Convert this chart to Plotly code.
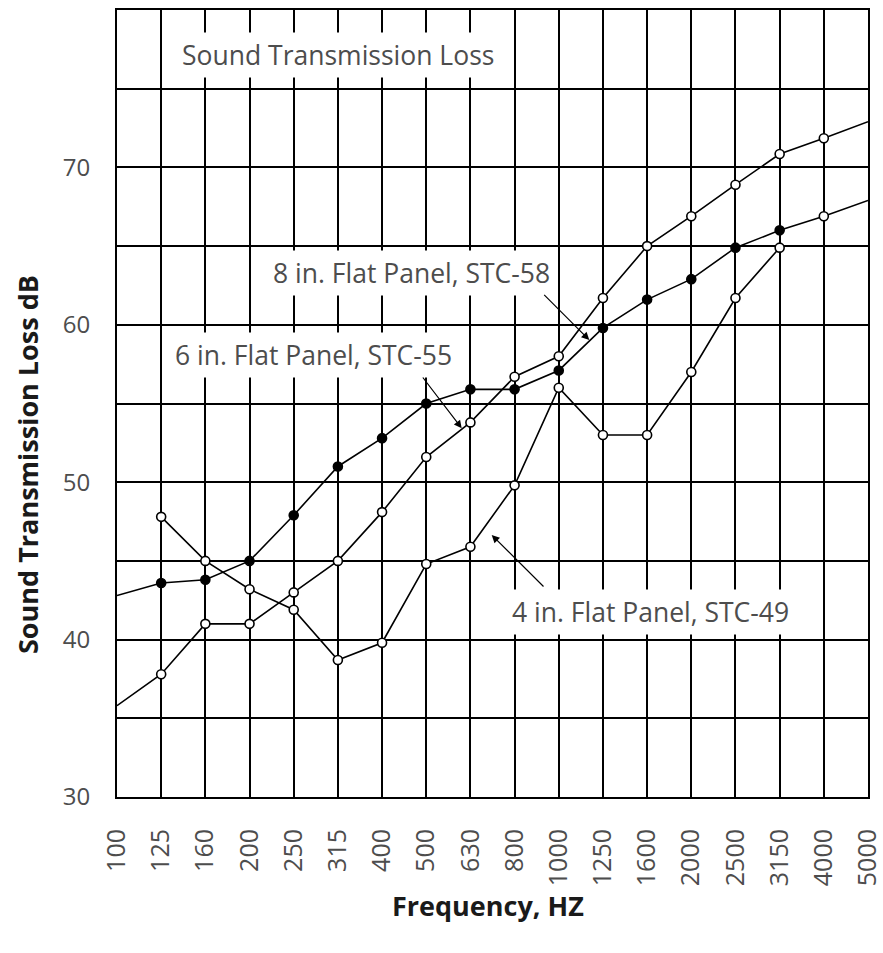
import plotly.graph_objects as go

# ---- data ----
freq_labels = ["100", "125", "160", "200", "250", "315", "400", "500", "630", "800",
               "1000", "1250", "1600", "2000", "2500", "3150", "4000", "5000"]
idx = list(range(len(freq_labels)))

stl_8in = [35.8, 37.8, 41.0, 41.0, 43.0, 45.0, 48.1, 51.6, 53.8, 56.7,
           58.0, 61.7, 65.0, 66.9, 68.9, 70.85, 71.85, 72.9]
stl_6in = [42.8, 43.6, 43.8, 45.0, 47.9, 51.0, 52.8, 55.0, 55.9, 55.9,
           57.1, 59.8, 61.6, 62.9, 64.9, 66.0, 66.9, 67.9]
stl_4in = [47.8, 45.0, 43.2, 41.9, 38.7, 39.8, 44.8, 45.9, 49.8, 56.0,
           53.0, 53.0, 57.0, 61.7, 64.9]
idx_4in = idx[1:16]

y_ticks = [30, 35, 40, 45, 50, 55, 60, 65, 70, 75, 80]
y_ticktext = ["30", "", "40", "", "50", "", "60", "", "70", "", ""]

FONT = "Open Sans"
GRAY = "#4d4d4d"

fig = go.Figure()

# lines
for xs, ys in ((idx, stl_8in), (idx, stl_6in), (idx_4in, stl_4in)):
    fig.add_trace(go.Scatter(x=xs, y=ys, mode="lines",
                             line=dict(color="black", width=1.6),
                             showlegend=False, hoverinfo="skip"))

# markers
fig.add_trace(go.Scatter(x=idx[1:17], y=stl_8in[1:17], mode="markers",
                         marker=dict(symbol="circle", size=9, color="white",
                                     line=dict(color="black", width=1.6)),
                         showlegend=False))
fig.add_trace(go.Scatter(x=idx[1:17], y=stl_6in[1:17], mode="markers",
                         marker=dict(symbol="circle", size=9,
                                     color=["black"] * 15 + ["white"],
                                     line=dict(color="black", width=1.6)),
                         showlegend=False))
fig.add_trace(go.Scatter(x=idx_4in, y=stl_4in, mode="markers",
                         marker=dict(symbol="circle", size=9, color="white",
                                     line=dict(color="black", width=1.6)),
                         showlegend=False))

L, R, T, B = 117, 868, 10, 797
W_PX, H_PX = 883, 953

def px_to_data(px, py):
    return (px - L) / (R - L) * 17, 80 - (py - T) / (B - T) * 50

annotations = []

def label(text, px, py, size=26.5):
    x, y = px_to_data(px, py)
    annotations.append(dict(x=x, y=y, xref="x", yref="y", text=text, showarrow=False,
                            xanchor="center", yanchor="middle",
                            font=dict(family=FONT, size=size, color=GRAY),
                            bgcolor="white", borderpad=4))

label("Sound Transmission Loss", 337.5, 55)
label("8 in. Flat Panel, STC-58", 411.5, 273)
label("6 in. Flat Panel, STC-55", 313.5, 355)
label("4 in. Flat Panel, STC-49", 650, 612)

def arrow(tail, tip):
    x, y = px_to_data(*tip)
    ax, ay = px_to_data(*tail)
    annotations.append(dict(x=x, y=y, ax=ax, ay=ay, xref="x", yref="y", axref="x", ayref="y",
                            text="", showarrow=True, arrowhead=2, arrowsize=1.3,
                            arrowwidth=1.2, arrowcolor="black", standoff=0))

arrow((542.7, 293.3), (589.3, 340))
arrow((421.7, 376), (461.7, 428.3))
arrow((545, 588), (491.7, 535))

annotations.append(dict(x=(27 - L) / (R - L), y=(B - 465) / (B - T), xref="paper", yref="paper",
                        xanchor="center", yanchor="middle",
                        text="<b>Sound Transmission Loss dB</b>", textangle=-90, showarrow=False,
                        font=dict(family=FONT, size=27, color="#1a1a1a")))
annotations.append(dict(x=(488 - L) / (R - L), y=(B - 905) / (B - T), xref="paper", yref="paper",
                        xanchor="center", yanchor="middle",
                        text="<b>Frequency, HZ</b>", showarrow=False,
                        font=dict(family=FONT, size=27, color="#1a1a1a")))

fig.update_layout(
    width=W_PX, height=H_PX,
    margin=dict(l=L, r=W_PX - R, t=T, b=H_PX - B, autoexpand=False),
    paper_bgcolor="white", plot_bgcolor="white",
    annotations=annotations,
    showlegend=False,
)

fig.update_xaxes(range=[0, 17], tickvals=idx, ticktext=freq_labels, tickangle=-90,
                 showgrid=True, gridcolor="black", gridwidth=1.6,
                 showline=True, linecolor="black", linewidth=2, mirror=True,
                 zeroline=False, ticks="", ticklabelstandoff=20, ticklabeloverflow="allow",
                 automargin=False,
                 tickfont=dict(family=FONT, size=25, color=GRAY))
fig.update_yaxes(range=[30, 80], tickvals=y_ticks, ticktext=y_ticktext,
                 showgrid=True, gridcolor="black", gridwidth=1.6,
                 showline=True, linecolor="black", linewidth=2, mirror=True,
                 zeroline=False, ticks="", ticklabelstandoff=20, ticklabeloverflow="allow",
                 automargin=False,
                 tickfont=dict(family=FONT, size=24, color=GRAY))

fig.write_html("out.html", config={"displayModeBar": False},
               post_script="document.body.style.margin='0';")
